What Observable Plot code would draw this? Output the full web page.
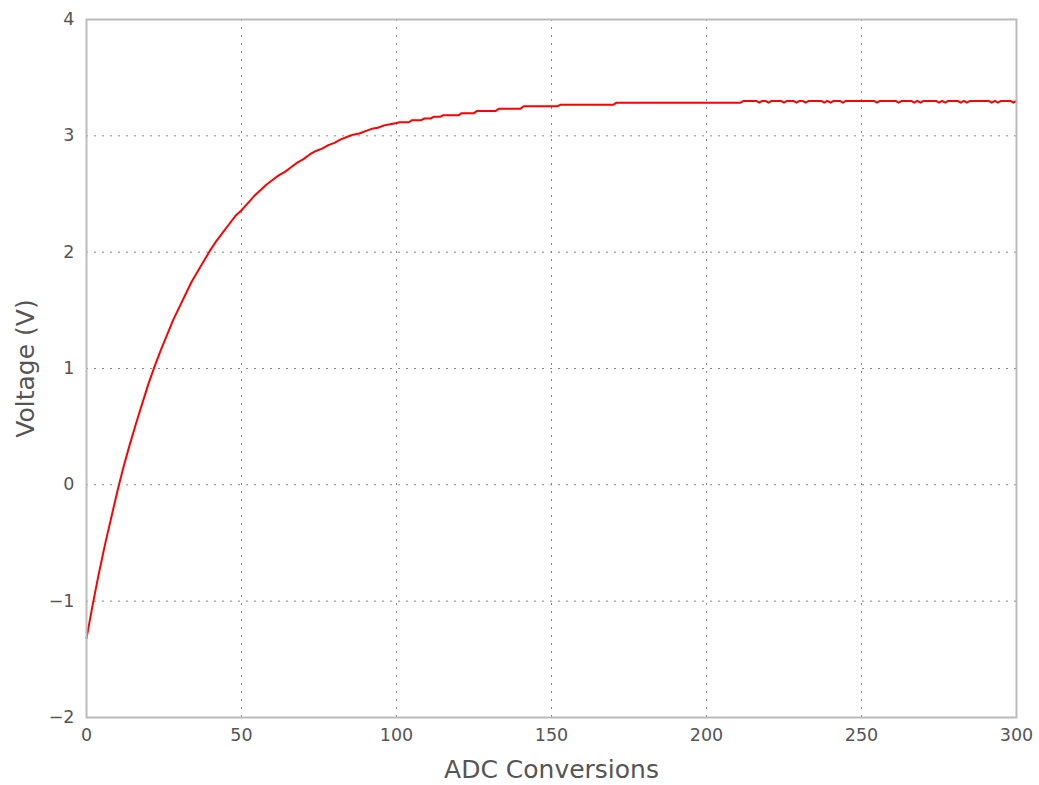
<!DOCTYPE html>
<html><head><meta charset="utf-8">
<script src="https://cdn.jsdelivr.net/npm/d3@7"></script>
<script src="https://cdn.jsdelivr.net/npm/@observablehq/plot@0.6"></script>
<style>body{margin:0;background:#fff}</style>
</head><body><div id="chart"></div>
<script>
// Rising part, read every 2 conversions
const riseX = [0,2,4,6,8,10,12,14,16,18,20,22,24,26,28,30,32,34,36,38,40,42,44,46,48,50,52,54,56,58,60,62,64,66,68,70,72,74,76,78,80,82,84,86,88,90,92,94,96,98,100];
const riseV = [-1.32,-1.03,-0.76,-0.51,-0.28,-0.05,0.16,0.35,0.53,0.70,0.87,1.02,1.16,1.29,1.42,1.53,1.64,1.75,1.84,1.93,2.02,2.10,2.17,2.24,2.31,2.36,2.42,2.48,2.53,2.58,2.62,2.66,2.69,2.73,2.77,2.80,2.84,2.87,2.89,2.92,2.94,2.97,2.99,3.01,3.02,3.04,3.06,3.07,3.09,3.10,3.11];
// Quantized plateau: first conversion of each level and its value
const stepStart = [101,105,109,112,115,121,126,133,141,153,171,212];
const stepV = [3.117,3.135,3.149,3.163,3.176,3.195,3.214,3.232,3.255,3.268,3.285,3.300];
// Conversions where the reading drops one level in the final plateau
const dipX = [217,220,225,229,232,238,240,244,255,262,267,269,275,277,282,284,292,294,299];
const dipV = 3.285;
const lastX = 300;
const xTicks = [0,50,100,150,200,250,300];
const yTicks = [-2,-1,0,1,2,3,4];

const data = riseX.map((x,i) => ({x, v: riseV[i]}));
for (let x = riseX[riseX.length-1] + 1; x <= lastX; x++) {
  let k = 0;
  for (let j = 0; j < stepStart.length; j++) if (stepStart[j] <= x) k = j;
  const v = dipX.includes(x) ? dipV : stepV[k];
  data.push({x, v});
}

const fmt = d => d < 0 ? "\u2212" + Math.abs(d) : String(d);

const chart = Plot.plot({
  width: 1039,
  height: 785,
  marginLeft: 86,
  marginRight: 23,
  marginTop: 19,
  marginBottom: 68,
  style: {fontFamily: "DejaVu Sans", fontSize: "18px", color: "#555", background: "#fff"},
  x: {domain: [0, 300]},
  y: {domain: [-2, 4]},
  marks: [
    Plot.gridX(xTicks.slice(1, -1), {stroke: "#888", strokeOpacity: 1, strokeDasharray: "2,6", strokeWidth: 1}),
    Plot.gridY(yTicks.slice(1, -1), {stroke: "#888", strokeOpacity: 1, strokeDasharray: "2,6", strokeWidth: 1}),
    Plot.axisX(xTicks, {tickSize: 0, tickPadding: 11, label: null, tickFormat: fmt, fill: "#555", fontSize: 17.5}),
    Plot.axisY(yTicks, {tickSize: 0, tickPadding: 12, label: null, tickFormat: fmt, fill: "#555", fontSize: 17.5}),
    Plot.line(data, {x: "x", y: "v", stroke: "#ff0000", strokeWidth: 2}),
    Plot.frame({stroke: "#bbb", strokeWidth: 2}),
    Plot.text(["ADC Conversions"], {frameAnchor: "bottom", dy: 52, fontSize: 25, fill: "#555", textAnchor: "middle", lineAnchor: "middle"}),
    Plot.text(["Voltage (V)"], {frameAnchor: "left", dx: -61, rotate: -90, fontSize: 25, fill: "#555", textAnchor: "middle", lineAnchor: "middle"})
  ]
});
document.getElementById("chart").appendChild(chart);
</script>
</body></html>
